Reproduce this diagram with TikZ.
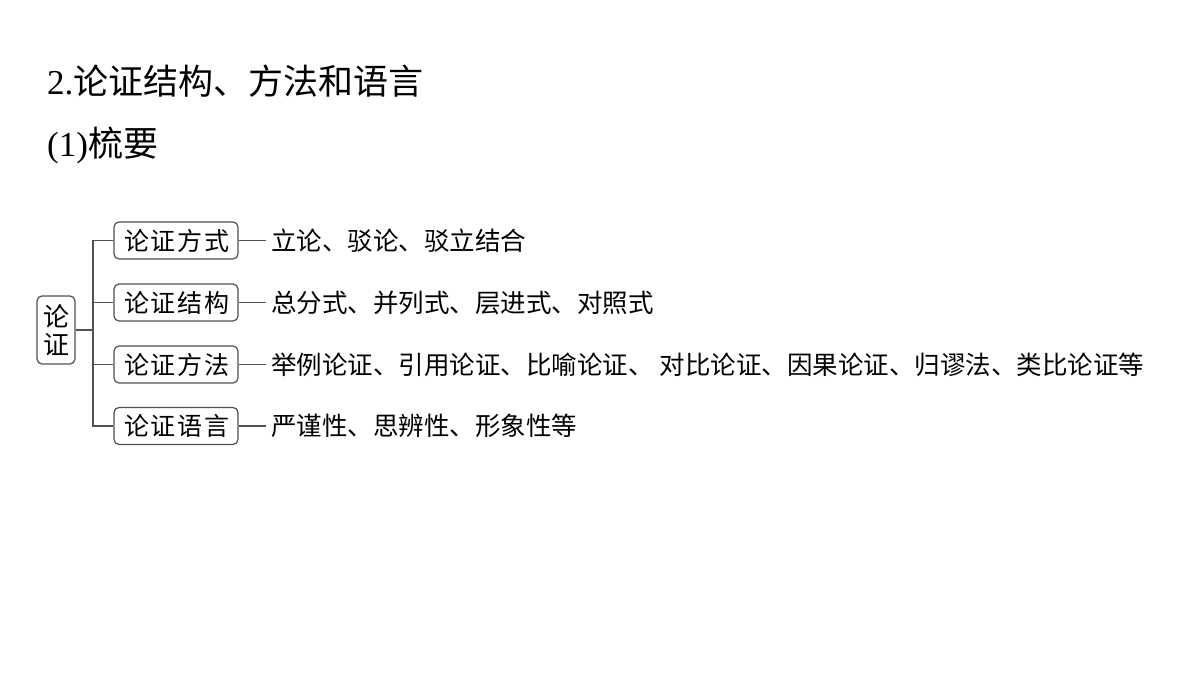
\documentclass[tikz,border=0pt]{standalone}
\usepackage{fontspec}
\setmainfont{Liberation Serif}
\newfontfamily\cjk{Noto Sans CJK SC}
\newfontfamily\cjkwide[LetterSpace=8]{Noto Sans CJK SC}
\definecolor{linec}{HTML}{505050}
\begin{document}
\begin{tikzpicture}[x=1pt,y=-1pt,
  box/.style={draw=linec, line width=1.2pt, rounded corners=5pt, minimum width=124pt, minimum height=37pt, inner sep=0pt, font=\cjkwide\fontsize{25}{25}\selectfont},
  rootbox/.style={draw=linec, line width=1.2pt, rounded corners=5pt, minimum width=38pt, minimum height=68pt, inner sep=0pt, align=center, font=\cjk\fontsize{26}{28}\selectfont},
  leaf/.style={anchor=west, inner sep=0pt, font=\cjk\fontsize{25.5}{25.5}\selectfont},
  conn/.style={draw=linec, line width=1.2pt}]
\useasboundingbox (0,0) rectangle (1200,675);
\fill[white] (0,0) rectangle (1200,675);
\node[anchor=west, inner sep=0pt, font=\fontsize{35}{35}\selectfont] (title) at (47,81) {2.{\cjk 论证结构、方法和语言}};
\node[anchor=west, inner sep=0pt, font=\fontsize{35}{35}\selectfont] (sub) at (47,145) {(1){\cjk 梳要}};
\node[rootbox] (root) at (56,330) {论\\证};
\node[box] (b1) at (176,240.5) {\hspace{2pt}论证方式};
\node[box] (b2) at (176,302.5) {\hspace{2pt}论证结构};
\node[box] (b3) at (176,364.5) {\hspace{2pt}论证方法};
\node[box] (b4) at (176,426) {\hspace{2pt}论证语言};
\node[leaf] (t1) at (271,240.5) {立论、驳论、驳立结合};
\node[leaf] (t2) at (271,302.5) {总分式、并列式、层进式、对照式};
\node[leaf] (t3) at (271,364.5) {举例论证、引用论证、比喻论证、\hspace{6pt}对比论证、因果论证、归谬法、类比论证等};
\node[leaf] (t4) at (271,426) {严谨性、思辨性、形象性等};
\coordinate (spine) at (93,330);
\draw[conn] (root.east) -- (spine);
\draw[conn] (b1.west) -- (b1.west -| spine) -- (b4.west -| spine) -- (b4.west);
\draw[conn] (b2.west) -- (b2.west -| spine);
\draw[conn] (b3.west) -- (b3.west -| spine);
\foreach \i in {1,2,3,4} {
  \draw[conn] (b\i.east) -- ([xshift=-5pt]t\i.west);
}
\end{tikzpicture}
\end{document}
